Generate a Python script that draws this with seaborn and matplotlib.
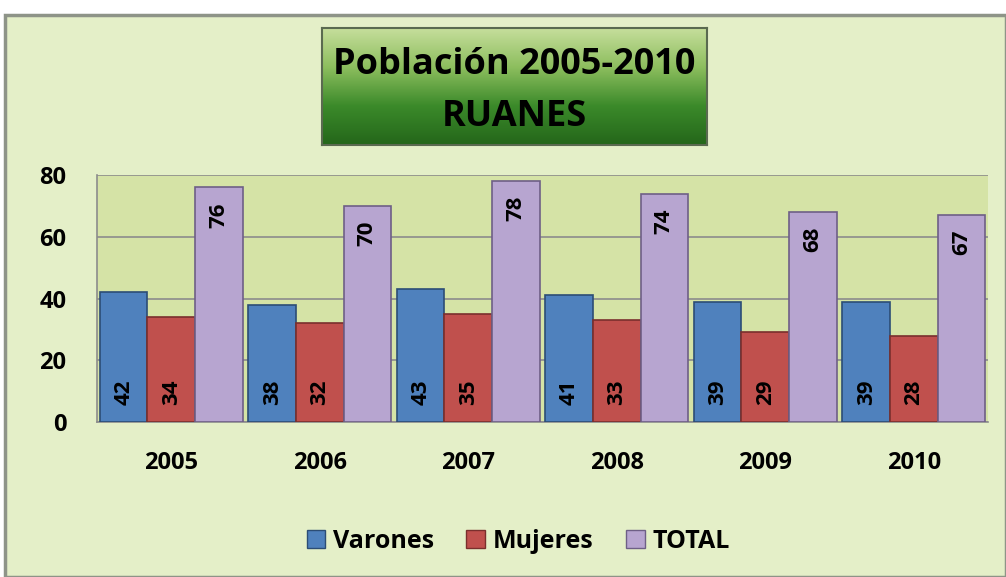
import matplotlib
matplotlib.use("Agg")
import matplotlib.pyplot as plt
import seaborn as sns
import pandas as pd
import numpy as np
from matplotlib.patches import Rectangle
from matplotlib.colors import LinearSegmentedColormap

years = ['2005', '2006', '2007', '2008', '2009', '2010']
varones = [42, 38, 43, 41, 39, 39]
mujeres = [34, 32, 35, 33, 29, 28]
total = [76, 70, 78, 74, 68, 67]
series = ['Varones', 'Mujeres', 'TOTAL']
colors = ['#4F81BD', '#C0504D', '#B7A5D0']
edges = ['#2C4D75', '#7A2F2D', '#6E5F86']
yticks = [0, 20, 40, 60, 80]

sns.set_style("white")
plt.rcParams['font.family'] = ['Open Sans', 'DejaVu Sans']
plt.rcParams['font.weight'] = 'bold'
plt.rcParams['text.color'] = 'black'
plt.rcParams['xtick.labelcolor'] = 'black'
plt.rcParams['ytick.labelcolor'] = 'black'

df = pd.DataFrame({
    'year': years * 3,
    'value': varones + mujeres + total,
    'serie': [s for s in series for _ in years],
})

fig = plt.figure(figsize=(10.06, 5.77), dpi=100)
fig.patch.set_facecolor('white')

# outer chart frame
fig.patches.append(Rectangle((5 / 1006, 0), 1 - 5 / 1006, 1 - 15 / 577,
                             transform=fig.transFigure, facecolor='#E4EFC8',
                             edgecolor='#8E9488', linewidth=2.5, zorder=-5))

ax = fig.add_axes([97 / 1006, 1 - 422 / 577, 891 / 1006, 247 / 577])
ax.set_facecolor('#D5E3A6')

sns.barplot(data=df, x='year', y='value', hue='serie', hue_order=series,
            palette=colors, width=0.96, gap=0.0, ax=ax, saturation=1,
            zorder=3)

for cont, ec in zip(ax.containers, edges):
    for b in cont:
        b.set_edgecolor(ec)
        b.set_linewidth(1.2)

# data labels
for i, cont in enumerate(ax.containers):
    for b in cont:
        xc = b.get_x() + b.get_width() / 2
        h = b.get_height()
        if i < 2:
            ax.text(xc, 5.5, f'{int(round(h))}', rotation=90, ha='center',
                    va='bottom', fontsize=16, fontweight='bold', zorder=5)
        else:
            ax.text(xc, h - 4.8, f'{int(round(h))}', rotation=90, ha='center',
                    va='top', fontsize=16, fontweight='bold', zorder=5)

ax.set_ylim(0, 80)
ax.set_xlim(-0.5, 5.5)
ax.set_yticks(yticks)
ax.yaxis.grid(True, color='#8C8C8C', linewidth=1.2, zorder=0)
ax.set_axisbelow(True)
for s in ['top', 'right']:
    ax.spines[s].set_visible(False)
ax.spines['left'].set_color('#8C8C8C')
ax.spines['bottom'].set_color('#8C8C8C')
ax.spines['left'].set_linewidth(1.2)
ax.spines['bottom'].set_linewidth(1.2)
ax.set_xticks(np.arange(-0.5, 6, 1), minor=True)
ax.tick_params(axis='x', which='minor', length=8, color='#8C8C8C', width=1.2)
ax.tick_params(axis='x', which='major', length=0, pad=21, labelsize=17)
ax.tick_params(axis='y', length=8, color='#8C8C8C', width=1.2, pad=14, labelsize=17)
for lab in ax.get_xticklabels() + ax.get_yticklabels():
    lab.set_fontweight('bold')
ax.set_xlabel('')
ax.set_ylabel('')

leg = ax.legend(loc='center', bbox_to_anchor=(0.515, 1 - 541 / 577),
                bbox_transform=fig.transFigure, ncol=3, frameon=False,
                prop={'size': 18, 'weight': 'bold'}, handlelength=0.75,
                handleheight=0.75, handletextpad=0.3, columnspacing=1.3)
for h, ec in zip(leg.legend_handles, edges):
    h.set_edgecolor(ec)

# title box with green gradient
tax = fig.add_axes([322 / 1006, 1 - 145 / 577, 385 / 1006, 117 / 577])
cmap = LinearSegmentedColormap.from_list('g', ['#C6DE9C', '#8DBE5E', '#3B8A2A', '#24661A'])
grad = np.linspace(0, 1, 256).reshape(-1, 1)
tax.imshow(grad, aspect='auto', cmap=cmap, extent=[0, 1, 0, 1], origin='upper')
tax.set_xticks([])
tax.set_yticks([])
for s in tax.spines.values():
    s.set_color('#5A6A50')
    s.set_linewidth(1.5)
tax.text(0.5, 0.68, 'Población 2005-2010', ha='center', va='center',
         fontsize=26, fontweight='bold', transform=tax.transAxes)
tax.text(0.5, 0.24, 'RUANES', ha='center', va='center',
         fontsize=26, fontweight='bold', transform=tax.transAxes)

fig.savefig('out.png', dpi=100)
